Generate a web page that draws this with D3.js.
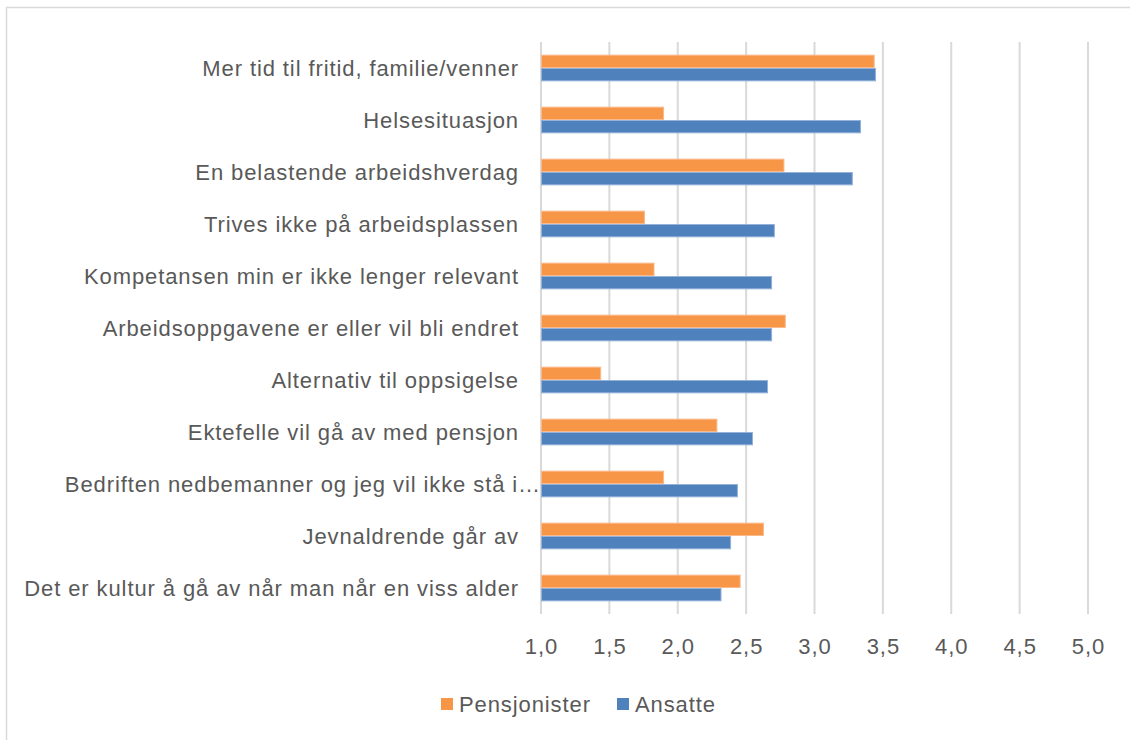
<!DOCTYPE html>
<html><head><meta charset="utf-8">
<script src="https://cdn.jsdelivr.net/npm/d3@7"></script>
<style>html,body{margin:0;padding:0;background:#fff;}svg{display:block;}</style>
</head><body><div id="chart"></div>
<script>
const categories = [
  "Mer tid til fritid, familie/venner",
  "Helsesituasjon",
  "En belastende arbeidshverdag",
  "Trives ikke på arbeidsplassen",
  "Kompetansen min er ikke lenger relevant",
  "Arbeidsoppgavene er eller vil bli endret",
  "Alternativ til oppsigelse",
  "Ektefelle vil gå av med pensjon",
  "Bedriften nedbemanner og jeg vil ikke stå i…",
  "Jevnaldrende går av",
  "Det er kultur å gå av når man når en viss alder"
];
const pensjonister = [3.44, 1.90, 2.78, 1.76, 1.83, 2.79, 1.44, 2.29, 1.90, 2.63, 2.46];
const ansatte = [3.45, 3.34, 3.28, 2.71, 2.69, 2.69, 2.66, 2.55, 2.44, 2.39, 2.32];
const seriesNames = ["Pensjonister", "Ansatte"];
const seriesColors = ["#F79646", "#4F81BD"];
const seriesStroke = ["#F9B98A", "#93B1D9"];
const xTicks = [1, 1.5, 2, 2.5, 3, 3.5, 4, 4.5, 5];

const W = 1130, H = 740;
const svg = d3.select("#chart").append("svg").attr("width", W).attr("height", H);
const font = "'Liberation Sans', Arial, sans-serif";
const fs = 22, ls = 0.9;

svg.append("rect").attr("x", 6.5).attr("y", 7.5).attr("width", W + 10).attr("height", H + 10)
  .attr("fill", "#fff").attr("stroke", "#d9d9d9").attr("stroke-width", 1.5);

const plot = {left: 541, right: 1088, top: 42, bottom: 614};
const x = d3.scaleLinear().domain([1, 5]).range([plot.left, plot.right]);
const y = d3.scaleBand().domain(categories).range([plot.top, plot.bottom]).paddingInner(0.487).paddingOuter(0.2435);
const sub = d3.scaleBand().domain(seriesNames).range([0, y.bandwidth()]);

// gridlines
svg.append("g").selectAll("line").data(xTicks).join("line")
  .attr("x1", d => x(d)).attr("x2", d => x(d))
  .attr("y1", plot.top).attr("y2", plot.bottom)
  .attr("stroke", "#d9d9d9").attr("stroke-width", 2);

const data = [pensjonister, ansatte];
data.forEach((vals, si) => {
  svg.append("g").selectAll("rect").data(vals).join("rect")
    .attr("x", x(1) + 0.5)
    .attr("y", (d, i) => y(categories[i]) + sub(seriesNames[si]) + 0.5)
    .attr("width", d => x(d) - x(1) - 1)
    .attr("height", sub.bandwidth() - 1)
    .attr("fill", seriesColors[si])
    .attr("stroke", seriesStroke[si]).attr("stroke-width", 1);
});

// category labels
svg.append("g").selectAll("text").data(categories).join("text")
  .attr("x", d => d.endsWith("…") ? 541 : 519)
  .attr("y", d => y(d) + y.bandwidth() / 2)
  .attr("dy", "0.35em").attr("text-anchor", "end")
  .attr("font-family", font).attr("font-size", fs).attr("letter-spacing", ls).attr("fill", "#595959")
  .text(d => d);

// x axis labels
const xAxis = d3.axisBottom(x).tickValues(xTicks).tickSize(0).tickPadding(0)
  .tickFormat(d => d3.format(".1f")(d).replace(".", ","));
const gx = svg.append("g").attr("transform", `translate(0,${plot.bottom})`).call(xAxis);
gx.select(".domain").remove();
gx.selectAll("text").attr("font-family", font).attr("font-size", fs).attr("letter-spacing", ls)
  .attr("fill", "#595959").attr("y", 24).attr("dy", "0.71em");

// legend
const legend = svg.append("g");
const legendX = [441, 617];
seriesNames.forEach((n, i) => {
  legend.append("rect").attr("x", legendX[i]).attr("y", 698).attr("width", 12).attr("height", 12).attr("fill", seriesColors[i]);
  legend.append("text").attr("x", legendX[i] + 18).attr("y", 704).attr("dy", "0.35em")
    .attr("font-family", font).attr("font-size", fs).attr("letter-spacing", ls).attr("fill", "#595959").text(n);
});
</script></body></html>
